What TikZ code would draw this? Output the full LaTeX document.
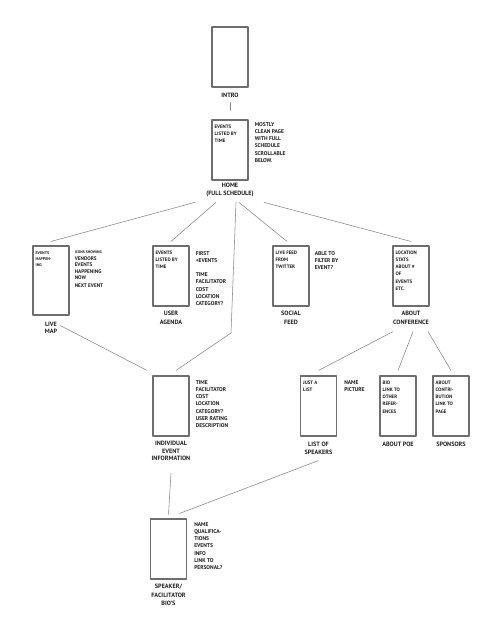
\documentclass[tikz,border=0pt]{standalone}
\usepackage{fontspec}
\setmainfont{PT Sans}
\usetikzlibrary{positioning}
\definecolor{ink}{HTML}{1E1E1E}
\definecolor{frame}{HTML}{6E6E6E}
\definecolor{wire}{HTML}{868686}
\begin{document}
\begin{tikzpicture}[x=1pt,y=-1pt,line join=round,line cap=round,
	screen/.style={draw=frame,line width=1.1pt,minimum width=36pt,minimum height=60pt,inner sep=0pt},
	intxt/.style={inner sep=0pt,align=left,text=ink,font=\bfseries\fontsize{4.9}{7.1}\selectfont},
	note/.style={inner sep=0pt,align=left,text=ink,font=\bfseries\fontsize{5.5}{7.3}\selectfont},
	lbl/.style={inner sep=0pt,align=center,text=ink,font=\bfseries\fontsize{6.2}{8.6}\selectfont},
	link/.style={draw=wire,line width=0.55pt}]
	\useasboundingbox (0,0) rectangle (500,639);
	\node[screen] (intro) at (230,57) {};
	\node[lbl,below=5pt of intro] (introlbl) {INTRO};
	\node[screen] (home) at (230,150) {};
	\node[intxt,below right=5.5pt and 3pt of home.north west] (hometxt) {EVENTS\\LISTED BY\\TIME};
	\node[note,below right=2.5pt and 6pt of home.north east] (homenote) {MOSTLY\\CLEAN PAGE\\WITH FULL\\SCHEDULE\\SCROLLABLE\\BELOW.};
	\node[lbl,below=2pt of home] (homelbl) {HOME\\(FULL SCHEDULE)};
	\node[screen,minimum height=69pt] (livemap) at (51,280.5) {};
	\node[intxt,font=\bfseries\fontsize{4}{6}\selectfont,below right=5.5pt and 3pt of livemap.north west] (livemaptxt) {EVENTS\\HAPPEN-\\ING};
	\node[note,font=\bfseries\fontsize{5.2}{6.5}\selectfont,below right=5.5pt and 5pt of livemap.north east] (livemapnote) {{\fontsize{3.8}{6}\selectfont ICONS SHOWING}\\VENDORS\\EVENTS\\HAPPENING\\NOW\\[1.5pt]NEXT EVENT};
	\node[lbl,font=\bfseries\fontsize{6.2}{7.6}\selectfont,below=6pt of livemap] (livemaplbl) {LIVE\\MAP};
	\node[screen] (agenda) at (171,276) {};
	\node[intxt,below right=5.5pt and 3pt of agenda.north west] (agendatxt) {EVENTS\\LISTED BY\\TIME};
	\node[note,below right=5.5pt and 6pt of agenda.north east] (agendanote) {FIRST\\+EVENTS\\[7pt]TIME\\FACILITATOR\\COST\\LOCATION\\CATEGORY?};
	\node[lbl,below=4.5pt of agenda] (agendalbl) {USER\\AGENDA};
	\node[screen] (social) at (291,276) {};
	\node[intxt,below right=5.5pt and 3pt of social.north west] (socialtxt) {LIVE FEED\\FROM\\TWITTER};
	\node[note,below right=5.5pt and 5pt of social.north east] (socialnote) {ABLE TO\\FILTER BY\\EVENT?};
	\node[lbl,below=4.5pt of social] (sociallbl) {SOCIAL\\FEED};
	\node[screen] (aboutconf) at (411,276) {};
	\node[intxt,below right=5.5pt and 3pt of aboutconf.north west] (aboutconftxt) {LOCATION\\STATS\\ABOUT \#\\OF\\EVENTS\\ETC.};
	\node[lbl,below=4.5pt of aboutconf] (aboutconflbl) {ABOUT\\CONFERENCE};
	\node[screen] (indiv) at (171,406) {};
	\node[note,below right=4.5pt and 6pt of indiv.north east] (indivnote) {TIME\\FACILITATOR\\COST\\LOCATION\\CATEGORY?\\USER RATING\\DESCRIPTION};
	\node[lbl,font=\bfseries\fontsize{6.2}{7.6}\selectfont,below=4.5pt of indiv] (indivlbl) {INDIVIDUAL\\EVENT\\INFORMATION};
	\node[screen] (speakers) at (318.5,406) {};
	\node[intxt,below right=5.5pt and 3pt of speakers.north west] (speakerstxt) {JUST A\\LIST};
	\node[note,below right=4.5pt and 7pt of speakers.north east] (speakersnote) {NAME\\PICTURE};
	\node[lbl,font=\bfseries\fontsize{6.2}{7.6}\selectfont,below=5.5pt of speakers] (speakerslbl) {LIST OF\\SPEAKERS};
	\node[screen] (aboutpoe) at (398,406) {};
	\node[intxt,below right=5.5pt and 3pt of aboutpoe.north west] (aboutpoetxt) {BIO\\LINK TO\\OTHER\\REFER-\\ENCES};
	\node[lbl,below=5.5pt of aboutpoe] (aboutpoelbl) {ABOUT POE};
	\node[screen] (sponsors) at (451,406) {};
	\node[intxt,below right=5.5pt and 3pt of sponsors.north west] (sponsorstxt) {ABOUT\\CONTRI-\\BUTION\\LINK TO\\PAGE};
	\node[lbl,below=5.5pt of sponsors] (sponsorslbl) {SPONSORS};
	\node[screen] (bio) at (168.5,549) {};
	\node[note,below right=3.5pt and 7pt of bio.north east] (bionote) {NAME\\QUALIFICA-\\TIONS\\EVENTS\\INFO\\LINK TO\\PERSONAL?};
	\node[lbl,below=4.5pt of bio] (biolbl) {SPEAKER/\\FACILITATOR\\BIO'S};
	\coordinate (bend) at (231,333);
	\draw[link] ([yshift=-5pt]introlbl.south) -- ([yshift=9pt]home.north);
	\draw[link] ([xshift=-35pt,yshift=-5pt]homelbl.south) -- ([yshift=4pt]livemap.north);
	\draw[link] ([xshift=-14pt,yshift=-5pt]homelbl.south) -- ([yshift=4pt]agenda.north);
	\draw[link] ([xshift=6pt,yshift=-5pt]homelbl.south) -- (bend) -- ([xshift=5pt,yshift=5pt]indiv.north);
	\draw[link] ([xshift=9pt,yshift=-5pt]homelbl.south) -- ([xshift=-4pt,yshift=4pt]social.north);
	\draw[link] ([xshift=34pt,yshift=-5pt]homelbl.south) -- ([yshift=4pt]aboutconf.north);
	\draw[link] ([xshift=3pt,yshift=-4pt]livemaplbl.north east) -- ([xshift=-24pt,yshift=5pt]indiv.north);
	\draw[link] ([xshift=-18pt,yshift=-7pt]aboutconflbl.south) -- ([yshift=5pt]speakers.north);
	\draw[link] ([xshift=2pt,yshift=-7pt]aboutconflbl.south) -- ([yshift=5pt]aboutpoe.north);
	\draw[link] ([xshift=17pt,yshift=-7pt]aboutconflbl.south) -- ([yshift=5pt]sponsors.north);
	\draw[link] ([yshift=-12pt]indivlbl.south) -- ([yshift=4pt]bio.north);
	\draw[link] ([yshift=-6pt]speakerslbl.south) -- ([xshift=11pt,yshift=5pt]bio.north);
\end{tikzpicture}
\end{document}
